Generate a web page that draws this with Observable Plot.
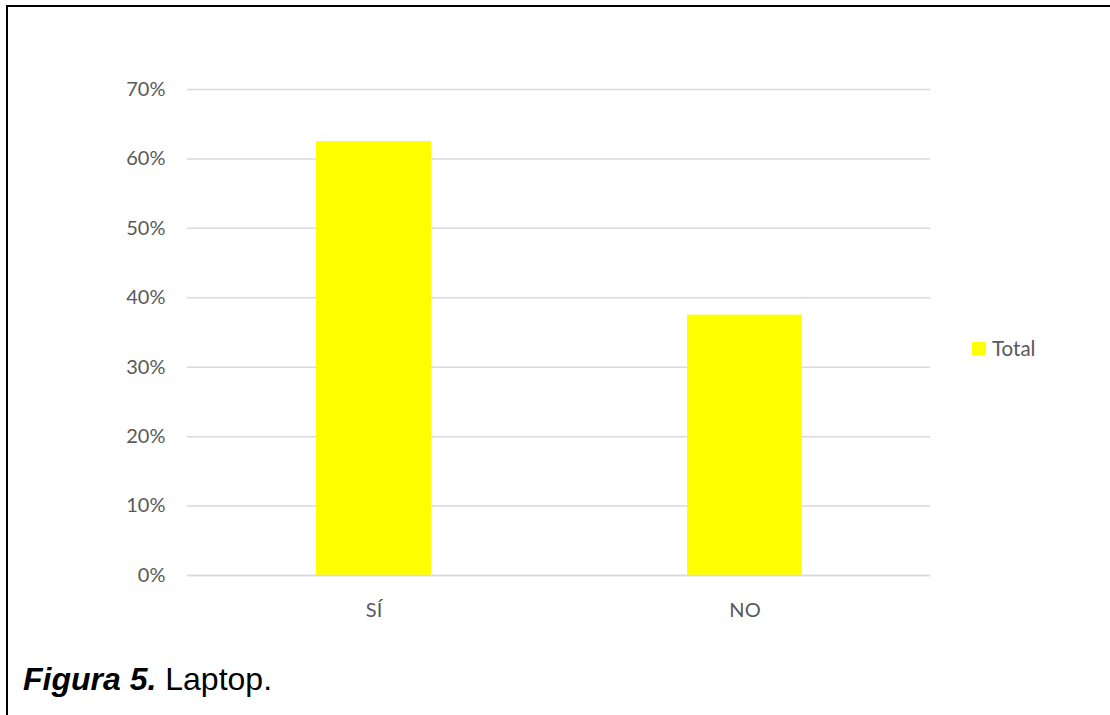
<!DOCTYPE html>
<html>
<head>
<meta charset="utf-8">
<script src="https://cdn.jsdelivr.net/npm/d3@7"></script>
<script src="https://cdn.jsdelivr.net/npm/@observablehq/plot@0.6"></script>
<style>
  body { margin: 0; background: #fff; }
  #wrap { position: relative; width: 1110px; height: 715px; overflow: hidden; background: #fff; }
  #frame { position: absolute; left: 6px; top: 5px; width: 1200px; height: 800px; border-left: 2.5px solid #000; border-top: 2.5px solid #000; }
  #chart { position: absolute; left: 0; top: 0; }
  #legend { position: absolute; left: 972px; top: 336px; font-family: Lato, "Open Sans", sans-serif; font-size: 20.5px; color: #595959; display: flex; align-items: center; }
  #legend .sw { width: 14px; height: 13px; background: #ffff00; margin-right: 6px; }
  #caption { position: absolute; left: 23px; top: 661px; font-family: "Liberation Sans", Arial, sans-serif; font-size: 32px; color: #000; white-space: nowrap; }
</style>
</head>
<body>
<div id="wrap">
  <div id="frame"></div>
  <div id="chart"></div>
  <div id="legend"><div class="sw"></div><span>Total</span></div>
  <div id="caption"><b><i>Figura 5.</i></b> Laptop.</div>
</div>
<script>
const categories = ["SÍ", "NO"];
const values = [0.625, 0.375];
const yTicks = [0, 0.1, 0.2, 0.3, 0.4, 0.5, 0.6, 0.7];
const seriesName = "Total";

const data = categories.map((c, i) => ({ category: c, value: values[i] }));

const chart = Plot.plot({
  width: 1110,
  height: 640,
  marginLeft: 187,
  marginRight: 180,
  marginTop: 89,
  marginBottom: 65,
  style: { fontFamily: "Lato, 'Open Sans', sans-serif", fontSize: "20px", color: "#595959", background: "transparent" },
  x: { domain: categories, padding: 0, label: null, tickSize: 0, tickPadding: 27 },
  y: { domain: [0, 0.7], ticks: yTicks, tickFormat: d3.format(".0%"), label: null, tickSize: 0, tickPadding: 22 },
  marks: [
    Plot.gridY(yTicks, { stroke: "#d9d9d9", strokeWidth: 1.5, strokeOpacity: 1 }),
    Plot.barY(data, { x: "category", y: "value", fill: "#ffff00", insetLeft: 128, insetRight: 128 }),
    Plot.ruleY([0], { stroke: "#d9d9d9", strokeWidth: 1.5 })
  ]
});
document.getElementById("chart").appendChild(chart);
</script>
</body>
</html>
